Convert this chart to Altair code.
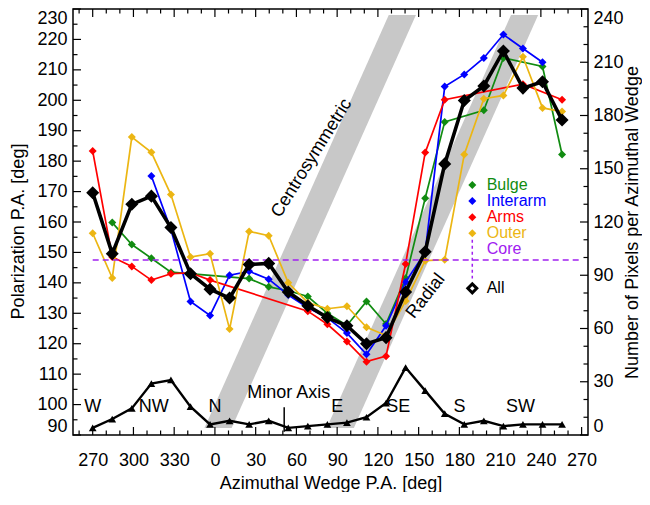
import altair as alt
import pandas as pd

# ---------------- data ----------------
# wedge centres (azimuthal P.A., deg), in plotting order starting at West
wedge_pa = [270.0, 284.4, 298.8, 313.2, 327.6, 342.0, 356.4, 10.8, 25.2, 39.6,
            54.0, 68.4, 82.8, 97.2, 111.6, 126.0, 140.4, 154.8, 169.2, 183.6,
            198.0, 212.4, 226.8, 241.2, 255.6]

bulge = [None, 159.8, 152.6, 148.1, 143.5, None, None, None, 141.4, 138.7,
         137.4, 135.5, 130.0, 126.0, 133.9, 126.5, 141.5, 167.8, 192.9, None,
         196.7, 213.9, None, 211.1, 182.2]
interarm = [None, None, None, 175.1, 157.5, 133.9, 129.3, 142.5, 143.8, 141.2,
            136.0, 131.8, 128.5, 123.5, 116.5, 125.9, 140.3, 150.0, 204.5, 208.5,
            213.9, 221.6, 217.0, 212.5, None]
arms = [183.3, 148.5, 145.4, 140.9, 143.0, 143.3, 140.9, None, None, None,
        None, 130.7, 126.4, 120.7, 114.1, 115.9, 146.2, 182.8, 200.2, None,
        None, None, 205.3, None, 200.2]
outer = [156.3, 141.6, 187.9, 182.9, 169.0, 148.5, 149.6, 124.8, 156.9, 155.5,
         140.0, 133.5, 131.5, 132.3, 125.4, 122.7, 134.0, 147.3, 147.6, 182.2,
         200.5, 201.6, 214.3, 197.5, 196.3]
all_regions = [169.6, 149.6, 165.8, 168.5, 158.2, 143.0, 137.9, 135.0, 146.0, 146.4,
               137.0, 132.5, 128.6, 125.9, 120.0, 122.0, 137.0, 150.2, 179.1, 199.9,
               204.7, 216.2, 204.0, 206.1, 193.5]
n_pixels = [4, 9, 15, 29, 31, 16, 6, 8, 6, 8, 4, 5, 6, 7, 10, 18, 38, 25, 12, 6,
            8, 5, 6, 6, 6]
core_pa = 147.5

x_tick_labels = [270, 300, 330, 0, 30, 60, 90, 120, 150, 180, 210, 240, 270]
compass_names = ["W", "NW", "N", "E", "SE", "S", "SW"]
compass_pa = [270, 315, 0, 90, 135, 180, 225]
minor_axis_pa = 51.0
band_pol = [92.3, 228.0]
band_halfwidth = 10.0

legend_names = ["Bulge", "Interarm", "Arms", "Outer", "Core", "All"]
legend_colors = ["#118c11", "#0000ff", "#ff0000", "#ecb613", "#a020f0", "#000000"]

# ---------------- layout ----------------
W, H = 515, 426
FONT = "Liberation Sans"
FS = 18
GREEN, BLUE, RED, GOLD, PURPLE = legend_colors[:5]


def to_u(pa):
    return (pa - 270.0) % 360.0


U = [to_u(p) for p in wedge_pa]
X = alt.Scale(domain=[-14.5, 364.7], nice=False, zero=False)
YL = alt.Scale(domain=[90, 230], nice=False, zero=False)
YR = alt.Scale(domain=[0, 240], nice=False, zero=False)

x_axis = alt.Axis(values=[30 * i for i in range(len(x_tick_labels))],
                  labelExpr="(datum.value + 270) % 360",
                  ticks=False, domain=False, grid=False, labelFlush=False,
                  labelPadding=16, labelFont=FONT, labelFontSize=FS, labelColor="black",
                  title="Azimuthal Wedge P.A. [deg]", titleFont=FONT, titleFontSize=FS,
                  titleFontWeight="normal", titleColor="black",
                  titleY=53, titleBaseline="alphabetic")
y_axis = alt.Axis(values=list(range(90, 231, 10)), ticks=False, domain=False, grid=False,
                  labelFlush=True, labelPadding=6, labelFont=FONT, labelFontSize=FS,
                  labelColor="black",
                  title="Polarization P.A. [deg]", titleFont=FONT, titleFontSize=FS,
                  titleFontWeight="normal", titleColor="black", titleAngle=270,
                  titleX=-50, titleY=H / 2 + 9, titleAlign="center",
                  titleBaseline="alphabetic")
r_axis = alt.Axis(orient="right", values=list(range(0, 241, 30)), ticks=False, domain=False,
                  grid=False, labelFlush=True, labelPadding=5, labelFont=FONT, labelFontSize=FS,
                  labelColor="black",
                  title="Number of Pixels per Azimuthal Wedge", titleFont=FONT, titleFontSize=FS,
                  titleFontWeight="normal", titleColor="black", titleAngle=270,
                  titleX=49, titleY=H / 2, titleAlign="center", titleBaseline="alphabetic")


def xe(field="u"):
    return alt.X(f"{field}:Q", scale=X, axis=x_axis)


def yl(field="v"):
    return alt.Y(f"{field}:Q", scale=YL, axis=y_axis)


def yr(field="n"):
    return alt.Y(f"{field}:Q", scale=YR, axis=r_axis)


def frame(vals):
    return pd.DataFrame([{"u": u, "v": v} for u, v in zip(U, vals) if v is not None])


# grey bands: centrosymmetric (u = pol) and radial (u = pol + 90)
band_rows = []
for name, shift in [("centro", 0.0), ("radial", 90.0)]:
    for p in band_pol:
        band_rows.append({"band": name, "pol": p,
                          "lo": p + shift - band_halfwidth, "hi": p + shift + band_halfwidth})
bands = alt.Chart(pd.DataFrame(band_rows)).mark_area(
    orient="horizontal", color="#c8c8c8", opacity=1).encode(
    y=yl("pol"), x=xe("lo"), x2="hi:Q", detail="band:N")

# ticks (inward)
MAJ, MIN = 8, 4.5


def xticks(vals, length):
    df = pd.DataFrame({"u": vals})
    base = alt.Chart(df).mark_rule(color="black", strokeWidth=1.2)
    bot = base.encode(x=xe(), y=alt.value(H), y2=alt.value(H - length))
    top = base.encode(x=xe(), y=alt.value(0), y2=alt.value(length))
    return [bot, top]


def yticks(vals, length, right):
    df = pd.DataFrame({"v": vals} if not right else {"n": vals})
    base = alt.Chart(df).mark_rule(color="black", strokeWidth=1.2)
    if right:
        return base.encode(y=yr(), x=alt.value(W), x2=alt.value(W - length))
    return base.encode(y=yl(), x=alt.value(0), x2=alt.value(length))


x_major = list(range(0, 361, 30))
x_minor = [v for v in range(-10, 361, 10) if v % 30 != 0]
tick_layers = (xticks(x_major, MAJ) + xticks(x_minor, MIN) +
               [yticks(list(range(90, 231, 10)), MAJ, False),
                yticks(list(range(95, 230, 10)), MIN, False)])


def series(vals, color, width, size):
    df = frame(vals)
    line = alt.Chart(df).mark_line(color=color, strokeWidth=width).encode(x=xe(), y=yl())
    pts = alt.Chart(df).mark_point(shape="diamond", filled=True, color=color,
                                   size=size, opacity=1).encode(x=xe(), y=yl())
    return [line, pts]


core_df = pd.DataFrame({"u": [0.0, 360.0], "v": [core_pa, core_pa]})
core = alt.Chart(core_df).mark_line(color=PURPLE, strokeWidth=1.5,
                                    strokeDash=[6, 4]).encode(x=xe(), y=yl())

# text annotations
compass_df = pd.DataFrame({"u": [to_u(a) for a in compass_pa], "v": [99.1] * len(compass_pa),
                           "t": compass_names})
compass = alt.Chart(compass_df).mark_text(font=FONT, fontSize=FS, color="black",
                                          align="center", baseline="middle").encode(
    x=xe(), y=yl(), text="t:N")

minor_df = pd.DataFrame({"u": [to_u(minor_axis_pa)], "v": [99.1], "v2": [91.1],
                         "tu": [144.4], "tv": [103.8], "t": ["Minor Axis"]})
minor_rule = alt.Chart(minor_df).mark_rule(color="black", strokeWidth=1.5).encode(
    x=xe(), y=yl(), y2="v2:Q")
minor_text = alt.Chart(minor_df).mark_text(font=FONT, fontSize=FS, color="black",
                                           align="center", baseline="middle").encode(
    x=xe("tu"), y=yl("tv"), text="t:N")

centro_df = pd.DataFrame({"u": [161.3], "v": [181.0], "t": ["Centrosymmetric"]})
centro_text = alt.Chart(centro_df).mark_text(font=FONT, fontSize=FS, color="black",
                                             align="center", baseline="middle",
                                             angle=302).encode(x=xe(), y=yl(), text="t:N")
radial_df = pd.DataFrame({"u": [245.3], "v": [135.6], "t": ["Radial"]})
radial_text = alt.Chart(radial_df).mark_text(font=FONT, fontSize=FS, color="black",
                                             align="center", baseline="middle",
                                             angle=308).encode(x=xe(), y=yl(), text="t:N")

# hand-made legend
leg_v = [172.2, 166.9, 161.6, 156.3, 151.0, 138.2]
leg_df = pd.DataFrame({"name": legend_names, "color": legend_colors, "v": leg_v,
                       "su": [279.5] * 6, "tu": [290.1] * 6})
leg_text = alt.Chart(leg_df).mark_text(font=FONT, fontSize=16, align="left",
                                       baseline="middle").encode(
    x=xe("tu"), y=yl(), text="name:N", color=alt.Color("color:N", scale=None))
leg_sym = alt.Chart(leg_df.iloc[:4]).mark_point(shape="diamond", filled=True, size=64,
                                                 opacity=1).encode(
    x=xe("su"), y=yl(), color=alt.Color("color:N", scale=None))
leg_core = alt.Chart(pd.DataFrame({"u": [279.5], "v": [154.2], "v2": [141.4]})).mark_rule(
    color=PURPLE, strokeWidth=1.5, strokeDash=[3, 3]).encode(x=xe(), y=yl(), y2="v2:Q")
leg_all = alt.Chart(leg_df.iloc[5:]).mark_point(shape="diamond", filled=False, size=80,
                                                 fill="white", stroke="black", strokeWidth=3,
                                                 opacity=1).encode(x=xe("su"), y=yl())

left_layers = ([bands] + tick_layers +
               series(bulge, GREEN, 1.7, 64) + series(interarm, BLUE, 1.7, 64) +
               series(arms, RED, 1.7, 64) + series(outer, GOLD, 1.7, 64) +
               [core] + series(all_regions, "black", 3.6, 170) +
               [compass, minor_rule, minor_text, centro_text, radial_text,
                leg_text, leg_sym, leg_core, leg_all])
left = alt.layer(*left_layers)

# right axis: number of pixels per wedge
npix_df = pd.DataFrame({"u": U, "n": n_pixels})
npix_line = alt.Chart(npix_df).mark_line(color="black", strokeWidth=2.4).encode(x=xe(), y=yr())
npix_pts = alt.Chart(npix_df).mark_point(shape="triangle-up", filled=True, color="black",
                                         size=60, opacity=1).encode(x=xe(), y=yr())
right = alt.layer(npix_line, npix_pts,
                  yticks(list(range(0, 241, 30)), MAJ, True),
                  yticks([v for v in range(10, 240, 10) if v % 30 != 0], MIN, True))

chart = alt.layer(left, right).resolve_scale(y="independent").properties(
    width=W, height=H,
    autosize=alt.AutoSizeParams(type="none"),
    padding={"left": 65, "top": 1, "right": 54, "bottom": 57},
    background="white",
).configure_view(stroke="black", strokeWidth=1.5)

chart.save("out.html", embed_options={"renderer": "svg", "actions": False})
